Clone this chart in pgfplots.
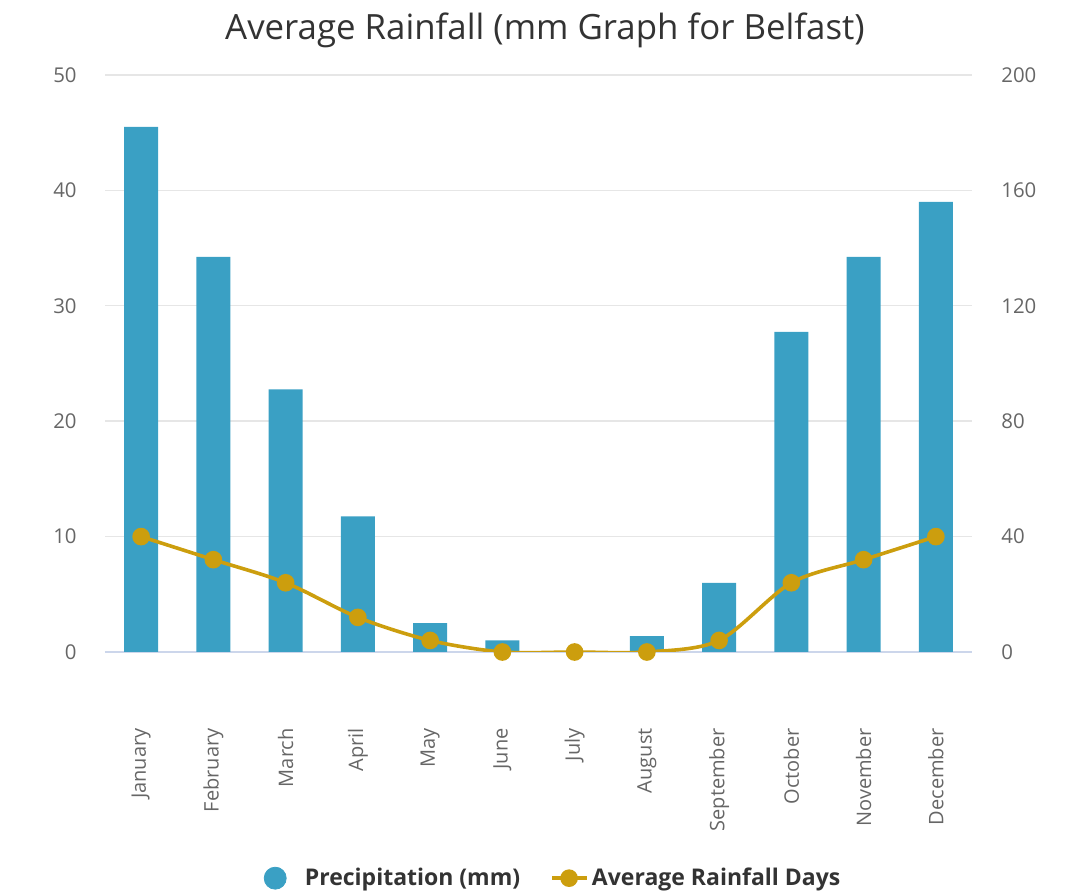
\documentclass[border=0pt]{standalone}
\usepackage{fontspec}
\setmainfont{Open Sans}
\usepackage{pgfplots}
\pgfplotsset{compat=1.18}
\definecolor{barc}{RGB}{58,160,196}
\definecolor{linec}{RGB}{204,158,14}
\definecolor{gridc}{RGB}{230,230,230}
\definecolor{axc}{RGB}{204,214,235}
\definecolor{tickc}{RGB}{102,102,102}
\definecolor{titc}{RGB}{51,51,51}
\definecolor{rlab}{RGB}{69,114,167}
\begin{document}
\begin{tikzpicture}
\path[use as bounding box] (-52.5pt,-121pt) rectangle (489.5pt,326pt);
\pgfplotsset{every axis/.append style={scale only axis, width=433.5pt, height=288.5pt,
  at={(0pt,0pt)}, anchor=south west, xmin=-0.5, xmax=11.5,
  /pgf/number format/assume math mode=true, tick style={draw=none},
  ticklabel style={font=\fontsize{10.2}{12}\selectfont, text=tickc, inner sep=0pt}}}
\begin{axis}[
  ymin=0, ymax=200, ytick={0,40,...,200},
  axis x line*=bottom, axis y line*=right,
  x axis line style={draw=axc, line width=0.8pt, -},
  y axis line style={draw=none},
  ymajorgrids, grid style={gridc, line width=0.7pt},
  xtick={0,...,11},
  xticklabels={January,February,March,April,May,June,July,August,September,October,November,December},
  xticklabel style={rotate=90, anchor=east, font=\fontsize{10}{12}\selectfont},
  xticklabel shift=38pt,
  yticklabel style={anchor=west},
  yticklabel shift=14.5pt,
]
\addplot[ybar, bar width=17pt, fill=barc, draw=none] coordinates {
(0,182) (1,137) (2,91) (3,47) (4,10) (5,4) (6,0) (7,5.5) (8,24) (9,111) (10,137) (11,156)};
\node[rotate=-90, text=rlab, font=\fontsize{10.2}{12}\selectfont] at (axis description cs:1.114,0.5) {Precipitation (mm)};
\node[rotate=90, text=tickc, font=\fontsize{10.2}{12}\selectfont] at (axis description cs:-0.098,0.5) {Average Rainfall days};
\end{axis}
\begin{axis}[
  ymin=0, ymax=50, ytick={0,10,...,50},
  axis x line=none, axis y line*=left,
  y axis line style={draw=none},
  yticklabel style={anchor=east},
  yticklabel shift=14pt,
  legend style={at={(axis description cs:0.518,-0.392)}, anchor=center, legend columns=2,
    draw=none, fill=none, font=\bfseries\fontsize{11.5}{13}\selectfont, text=titc,
    /tikz/every even column/.append style={column sep=13pt}},
]
\addlegendimage{legend image code/.code={\path[draw=none] (-0.2cm,0) -- (0.45cm,0); \fill[barc] (0cm,0) circle (5.5pt);}}
\addlegendentry{Precipitation (mm)}
\addplot[linec, line width=1.8pt, smooth, tension=0.5, mark=*, mark size=3.5pt, mark options={fill=linec, draw=linec}] coordinates {
(0,10) (1,8) (2,6) (3,3) (4,1) (5,0) (6,0) (7,0) (8,1) (9,6) (10,8) (11,10)};
\addlegendentry{Average Rainfall Days}
\end{axis}
\node[text=titc, font=\fontsize{17.4}{20}\selectfont] at (220pt,311pt) {Average Rainfall (mm Graph for Belfast)};
\end{tikzpicture}
\end{document}
